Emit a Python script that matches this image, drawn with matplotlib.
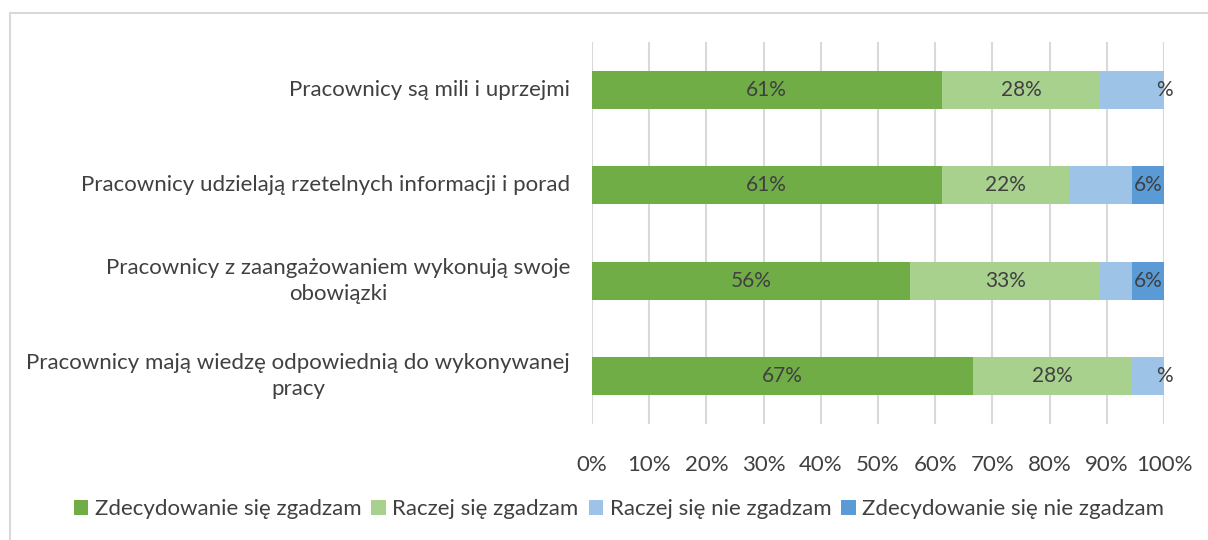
import matplotlib
matplotlib.use("Agg")
import matplotlib.pyplot as plt
from matplotlib.patches import Rectangle
import numpy as np

plt.rcParams['font.family'] = ['Lato', 'DejaVu Sans']

categories = [
    "Pracownicy są mili i uprzejmi",
    "Pracownicy udzielają rzetelnych informacji i porad",
    "Pracownicy z zaangażowaniem wykonują swoje\nobowiązki",
    "Pracownicy mają wiedzę odpowiednią do wykonywanej\npracy",
]
series_names = ["Zdecydowanie się zgadzam", "Raczej się zgadzam",
                "Raczej się nie zgadzam", "Zdecydowanie się nie zgadzam"]
strongly_agree = [11/18, 11/18, 10/18, 12/18]
rather_agree = [5/18, 4/18, 6/18, 5/18]
rather_disagree = [2/18, 2/18, 1/18, 1/18]
strongly_disagree = [0, 1/18, 1/18, 0]
# labels as shown in the chart (light blue labels partly clipped: only "%" visible)
label_text = [
    ["61%", "61%", "56%", "67%"],
    ["28%", "22%", "33%", "28%"],
    ["%", "", "", "%"],
    ["", "6%", "6%", ""],
]
colors = ["#70AD47", "#A9D18E", "#9DC3E6", "#5B9BD5"]
text_color = "#404040"
FS = 16

W, H = 1208, 540
fig = plt.figure(figsize=(W/100, H/100), dpi=100)
ax = fig.add_axes([592/W, 1-424/H, (1164-592)/W, (424-42)/H])

data = [strongly_agree, rather_agree, rather_disagree, strongly_disagree]
y = np.arange(len(categories))
left = np.zeros(len(categories))
for s, (vals, c, name) in enumerate(zip(data, colors, series_names)):
    vals = np.array(vals)
    ax.barh(y, vals, left=left, height=0.4, color=c, label=name, zorder=3)
    for i, v in enumerate(vals):
        t = label_text[s][i]
        if t:
            xpos = 1.0 if t == "%" else left[i] + v/2
            ax.text(xpos, y[i], t, ha='center', va='center', fontsize=15,
                    color=text_color, zorder=4)
    left += vals

ax.set_ylim(len(categories)-0.5, -0.5)
ax.set_xlim(0, 1)
ticks = np.linspace(0, 1, 11)
ax.set_xticks(ticks)
ax.set_xticklabels([f"{int(round(v*100))}%" for v in ticks])
ax.set_yticks(y)
ax.set_yticklabels([])
ax.tick_params(axis='y', length=0)
ax.tick_params(axis='x', length=0, pad=22, labelsize=FS, labelcolor=text_color)
ax.xaxis.grid(True, color="#D9D9D9", linewidth=1.5, zorder=0)
for sp in ax.spines.values():
    sp.set_visible(False)

for i, cat in enumerate(categories):
    ax.annotate(cat, xy=(0, y[i]), xycoords=('axes fraction', 'data'),
                xytext=(-22, 0), textcoords='offset pixels',
                ha='right', va='center', multialignment='center',
                fontsize=FS, color=text_color, linespacing=1.4)

leg = ax.legend(loc='center', bbox_to_anchor=(619/W, 1-509/H), bbox_transform=fig.transFigure,
                ncol=4, frameon=False, fontsize=FS, handlelength=0.65, handleheight=0.65,
                handletextpad=0.3, columnspacing=0.45, labelcolor=text_color)

fig.patches.append(Rectangle((10/W, -0.1), 1.2, 1-13/H+0.1, transform=fig.transFigure,
                             fill=False, edgecolor="#D9D9D9", linewidth=1.5))

fig.savefig("out.png", dpi=100, facecolor="white")
